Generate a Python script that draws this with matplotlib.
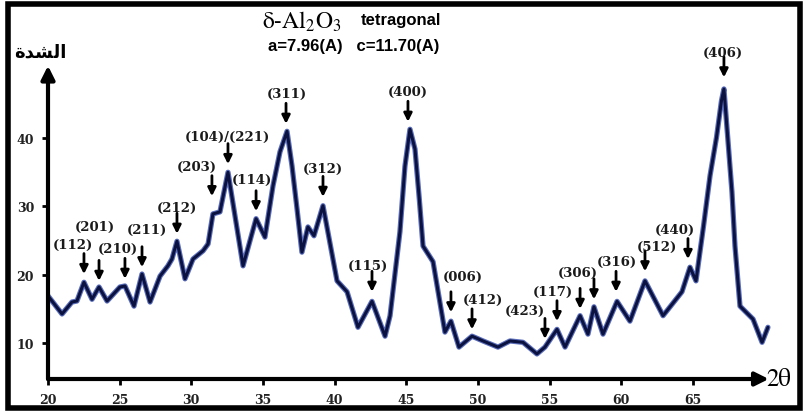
import matplotlib
matplotlib.use('Agg')  # noqa
import matplotlib.pyplot as plt
from matplotlib.patches import Rectangle

# XRD pattern of delta-alumina (2theta in degrees, intensity in a.u.)
two_theta = [20.0, 20.98, 21.67, 22.02, 22.51, 23.07, 23.56, 24.12, 25.02, 25.37,
             26.0, 26.56, 27.12, 27.82, 28.37, 28.65, 29.0, 29.56, 30.12, 30.82,
             31.17, 31.51, 32.0, 32.56, 33.61, 34.52, 35.14, 35.70, 36.19, 36.68,
             37.03, 37.38, 37.72, 38.14, 38.56, 39.19, 40.17, 40.87, 41.63, 42.61,
             43.52, 43.87, 44.56, 44.91, 45.26, 45.61, 45.91, 46.17, 46.87, 47.7,
             48.12, 48.68, 49.59, 50.36, 51.4, 52.24, 53.15, 54.12, 54.68, 55.52,
             56.08, 57.13, 57.68, 58.1, 58.73, 59.71, 60.61, 61.66, 62.92, 64.24,
             64.8, 65.22, 65.75, 66.2, 66.65, 67.0, 67.17, 67.73, 67.94, 68.29,
             69.2, 69.83, 70.24]
intensity = [16.9, 14.25, 16.0, 16.15, 18.9, 16.4, 18.2, 16.15, 18.2, 18.35,
             15.4, 20.1, 16.0, 19.8, 21.3, 22.3, 24.9, 19.4, 22.3, 23.5,
             24.5, 28.9, 29.2, 35.0, 21.3, 28.2, 25.5, 33.0, 38.0, 41.0,
             35.9, 29.6, 23.3, 27.0, 25.7, 30.1, 19.1, 17.5, 12.3, 16.1,
             11.0, 14.0, 26.3, 35.9, 41.3, 38.4, 31.1, 24.2, 21.9, 11.6,
             13.2, 9.4, 11.0, 10.3, 9.4, 10.3, 10.1, 8.4, 9.4, 12.0,
             9.4, 14.0, 11.3, 15.3, 11.3, 16.1, 13.2, 19.1, 14.0, 17.5,
             21.1, 19.1, 27.2, 34.5, 40.1, 45.5, 47.2, 32.1, 24.2, 15.4,
             13.5, 10.1, 12.3]

# reflection markers: arrow positions and tip heights
arrow_x = [22.51, 23.56, 25.37, 26.56, 29.0, 31.44, 32.56, 34.52, 36.61, 39.19,
           42.61, 45.12, 48.12, 49.59, 54.68, 55.52, 57.13, 58.1, 59.64, 61.66,
           64.66, 67.17]
arrow_tip = [20.1, 19.1, 19.4, 21.1, 26.0, 31.5, 36.2, 29.3, 42.1, 31.4,
             17.5, 42.4, 14.5, 12.0, 10.6, 13.2, 15.0, 16.4, 17.5, 20.5,
             22.3, 48.9]

hkl_labels = ['(112)', '(201)', '(210)', '(211)', '(212)', '(203)', '(104)/(221)',
              '(114)', '(311)', '(312)', '(115)', '(400)', '(006)', '(412)',
              '(423)', '(117)', '(306)', '(316)', '(512)', '(440)', '(406)']
label_x = [21.74, 23.28, 24.88, 26.9, 29.0, 30.4, 32.5, 34.24, 36.68, 39.19,
           42.33, 45.12, 48.96, 50.36, 53.29, 55.24, 56.99, 59.71, 62.5, 63.75,
           67.1]
label_y = [24.5, 27.0, 23.9, 26.7, 29.9, 35.9, 40.3, 34.0, 46.5, 35.5,
           21.3, 46.9, 19.7, 16.4, 14.7, 17.6, 20.4, 21.9, 24.2, 26.7,
           52.6]

x_ticks = [20, 25, 30, 35, 40, 45, 50, 55, 60, 65]
y_ticks = [10, 20, 30, 40]

W, H = 805, 414


def fig_xy(x, y):
    return x / W, 1 - y / H


plt.rcParams['mathtext.fontset'] = 'stix'

fig = plt.figure(figsize=(W / 100, H / 100), dpi=100)
ax = fig.add_axes([48 / W, 1 - 380 / H, (790 - 48) / W, (380 - 8) / H])
x0, x1 = 20, 71.78
y0, y1 = 4.73, 59.2
ax.set_xlim(x0, x1)
ax.set_ylim(y0, y1)
for s in ax.spines.values():
    s.set_visible(False)

# axes drawn as arrows
ax.annotate('', xy=(70.3, y0), xytext=(x0, y0),
            arrowprops=dict(arrowstyle='-|>', lw=3, color='k',
                            mutation_scale=20, shrinkA=0, shrinkB=0))
ax.annotate('', xy=(x0, 50.6), xytext=(x0, y0),
            arrowprops=dict(arrowstyle='-|>', lw=3, color='k',
                            mutation_scale=20, shrinkA=0, shrinkB=0))

ax.set_xticks(x_ticks)
ax.set_yticks(y_ticks)
ax.tick_params(direction='out', length=4, width=2, color='k', pad=6)
for lab in ax.get_xticklabels() + ax.get_yticklabels():
    lab.set_fontfamily('DejaVu Serif')
    lab.set_fontweight('bold')
    lab.set_fontsize(9)
    lab.set_color('#222222')

# pattern line: blue halo with dark core
ax.plot(two_theta, intensity, color='#3048a8', lw=3.8, solid_joinstyle='round',
        solid_capstyle='round', alpha=0.8)
ax.plot(two_theta, intensity, color='#0c1240', lw=2.2, solid_joinstyle='round',
        solid_capstyle='round')

for x, tip in zip(arrow_x, arrow_tip):
    ax.annotate('', xy=(x, tip), xytext=(x, tip + 3.0),
                arrowprops=dict(arrowstyle='-|>', lw=2.0, color='k',
                                mutation_scale=12, shrinkA=0, shrinkB=0))

for name, lx, ly in zip(hkl_labels, label_x, label_y):
    ax.text(lx, ly, name, ha='center', va='center', fontsize=9.5,
            fontweight='bold', family='DejaVu Serif', color='#1a1a1a')

# header text
fig.text(*fig_xy(302, 22), r'$\mathrm{\delta}$-Al$_2$O$_3$', ha='center', va='center',
         fontsize=17, family='STIXGeneral')
fig.text(*fig_xy(401, 20), 'tetragonal', ha='center', va='center',
         fontsize=12, fontweight='bold', family='Liberation Sans')
fig.text(*fig_xy(354, 47), 'a=7.96(A)   c=11.70(A)', ha='center', va='center',
         fontsize=12, fontweight='bold', family='Liberation Sans')

# axis titles
fig.text(*fig_xy(40, 53), '\uFE93\uFEAA\uFEB8\uFEDF\uFE8D', ha='center', va='center',
         fontsize=13, fontweight='bold', family='DejaVu Sans')
fig.text(*fig_xy(766, 380), '2θ', ha='left', va='center',
         fontsize=18, family='STIXGeneral')

# outer frame
fig.add_artist(Rectangle(fig_xy(8, 409), (800 - 8) / W, (409 - 5) / H,
                         transform=fig.transFigure, fill=False, lw=4, ec='k'))

fig.savefig('out.png', dpi=100)
